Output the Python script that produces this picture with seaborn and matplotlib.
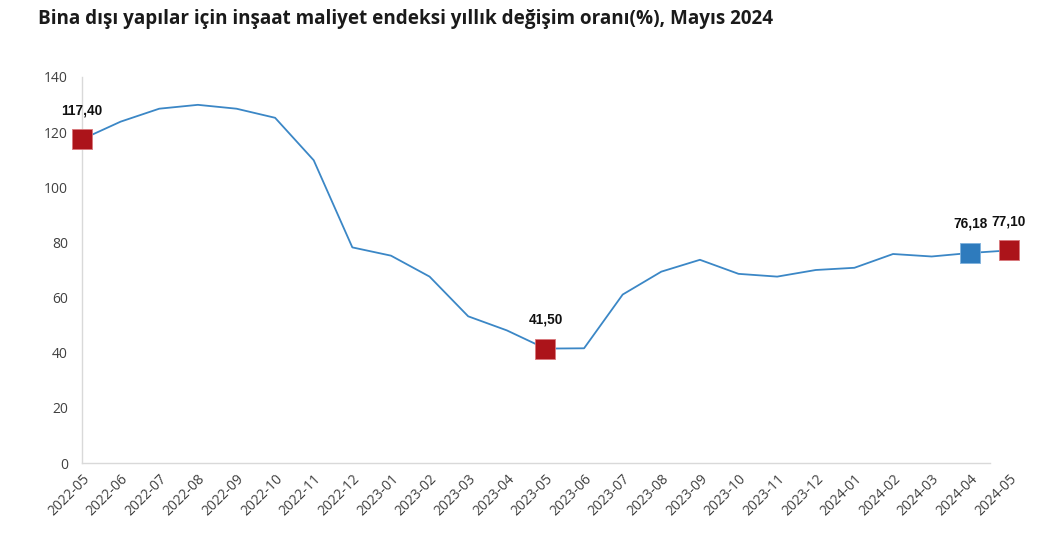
import matplotlib
matplotlib.use("Agg")
import matplotlib.pyplot as plt
import seaborn as sns
import pandas as pd

months = ["2022-05", "2022-06", "2022-07", "2022-08", "2022-09", "2022-10", "2022-11",
          "2022-12", "2023-01", "2023-02", "2023-03", "2023-04", "2023-05", "2023-06",
          "2023-07", "2023-08", "2023-09", "2023-10", "2023-11", "2023-12", "2024-01",
          "2024-02", "2024-03", "2024-04", "2024-05"]
values = [117.40, 123.8, 128.5, 129.9, 128.5, 125.2, 109.8, 78.2, 75.2, 67.6, 53.2, 48.1,
          41.50, 41.6, 61.1, 69.4, 73.7, 68.6, 67.6, 70.0, 70.8, 75.8, 74.9, 76.18, 77.10]
highlight_red = ["2022-05", "2023-05", "2024-05"]
highlight_blue = ["2024-04"]
yticks = [0, 20, 40, 60, 80, 100, 120, 140]

df = pd.DataFrame({"month": months, "value": values})
df["x"] = range(len(df))

sns.set_theme(style="white")
plt.rcParams["font.family"] = ["Open Sans", "DejaVu Sans"]

fig = plt.figure(figsize=(10.62, 5.38), dpi=100)
ax = fig.add_axes([0.0772, 0.1394, 0.8728, 0.7175])

sns.lineplot(data=df, x="x", y="value", color="#3B87C6", linewidth=1.3, ax=ax)

red = df[df["month"].isin(highlight_red)]
blue = df[df["month"].isin(highlight_blue)]
sns.scatterplot(data=red, x="x", y="value", marker="s", s=200, color="#AC141A",
                edgecolor="#D9787C", linewidth=0.6, ax=ax, zorder=5, clip_on=False)
sns.scatterplot(data=blue, x="x", y="value", marker="s", s=200, color="#2E7BBD",
                edgecolor="#7FB2DD", linewidth=0.6, ax=ax, zorder=5, clip_on=False)

for _, r in pd.concat([red, blue]).iterrows():
    label = f"{r['value']:.2f}".replace(".", ",")
    ax.annotate(label, (r["x"], r["value"]), xytext=(0, 16), textcoords="offset points",
                ha="center", va="bottom", fontsize=9.8, fontweight="bold", color="#111111",
                family=["Liberation Sans", "DejaVu Sans"], annotation_clip=False)

ax.set_xlim(0, len(months) - 1)
ax.set_ylim(0, 140)
ax.set_yticks(yticks)
ax.set_yticklabels([str(t) for t in yticks])
ax.set_xticks(df["x"])
ax.set_xticklabels(months, rotation=45, ha="right", rotation_mode="anchor")
ax.tick_params(axis="both", labelsize=10, labelcolor="#404040", length=0)
ax.tick_params(axis="x", pad=6)
ax.tick_params(axis="y", pad=10)
ax.set_xlabel("")
ax.set_ylabel("")

for s in ["top", "right"]:
    ax.spines[s].set_visible(False)
ax.spines["left"].set_color("#D9D9D9")
ax.spines["bottom"].set_color("#D9D9D9")
ax.spines["left"].set_linewidth(1)
ax.spines["bottom"].set_linewidth(1)
ax.spines["bottom"].set_bounds(0, len(months) - 1.5)
ax.grid(False)

fig.text(0.036, 0.965, "Bina dışı yapılar için inşaat maliyet endeksi yıllık değişim oranı(%), Mayıs 2024",
         ha="left", va="center", fontsize=13.6, fontweight="bold", color="#1a1a1a")

fig.savefig("out.png", dpi=100)
